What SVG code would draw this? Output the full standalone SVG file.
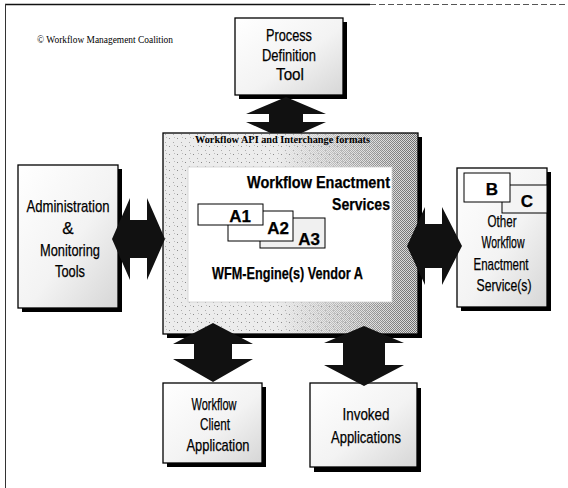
<svg xmlns="http://www.w3.org/2000/svg" width="568" height="488" viewBox="0 0 568 488">
<defs>
<style>
.box{stroke:#000;stroke-width:1.3}
.sh{fill:#000}
.plain{fill:url(#boxFill)}
.lbl{font-family:"Liberation Sans",Arial,sans-serif;font-size:17px;text-anchor:middle;fill:#000;stroke:#000;stroke-width:0.25}
.b{font-weight:bold}
.ser{font-family:"Liberation Serif","Times New Roman",serif;fill:#000}
.arrow{fill:#111}
</style>
<linearGradient id="boxFill" x1="0" y1="0" x2="1" y2="1">
<stop offset="0" stop-color="#ffffff"/>
<stop offset="0.55" stop-color="#f3f3f3"/>
<stop offset="1" stop-color="#d6d6d6"/>
</linearGradient>
<linearGradient id="maskGrad" gradientUnits="userSpaceOnUse" x1="163" y1="0" x2="418" y2="0">
<stop offset="0" stop-color="#000"/>
<stop offset="0.45" stop-color="#000"/>
<stop offset="0.8" stop-color="#999"/>
<stop offset="1" stop-color="#fff"/>
</linearGradient>
<mask id="darkMask"><rect x="163" y="133" width="255" height="201" fill="url(#maskGrad)"/></mask>
<pattern id="speck" width="8" height="8" patternUnits="userSpaceOnUse">
<rect width="8" height="8" fill="#ececec"/>
<rect x="1" y="2" width="1" height="1" fill="#8a8a8a"/>
<rect x="5" y="6" width="1" height="1" fill="#aaa"/>
<rect x="6" y="1" width="1" height="1" fill="#bbb"/>
</pattern>
<pattern id="checker" width="2" height="2" patternUnits="userSpaceOnUse">
<rect width="2" height="2" fill="#d8d8d8"/>
<rect width="1" height="1" fill="#6a6a6a"/>
<rect x="1" y="1" width="1" height="1" fill="#6a6a6a"/>
</pattern>
</defs>

<rect width="568" height="488" fill="#fff"/>
<!-- frame -->
<line x1="5" y1="4.5" x2="370" y2="4.5" stroke="#111" stroke-width="1.3"/>
<line x1="370" y1="4.5" x2="565" y2="4.5" stroke="#555" stroke-width="1" stroke-dasharray="6 3"/>
<line x1="5.5" y1="4" x2="5.5" y2="488" stroke="#333" stroke-width="1"/>

<text class="ser" x="37" y="43" font-size="9.5" textLength="136" lengthAdjust="spacingAndGlyphs">© Workflow Management Coalition</text>

<g id="process-definition-tool">
<rect class="sh" x="239" y="22" width="108" height="77"/>
<rect class="box plain" x="235" y="18" width="108" height="77"/>
<text class="lbl" x="289" y="41" textLength="46" lengthAdjust="spacingAndGlyphs">Process</text>
<text class="lbl" x="289" y="61" textLength="54" lengthAdjust="spacingAndGlyphs">Definition</text>
<text class="lbl" x="290" y="80" textLength="28" lengthAdjust="spacingAndGlyphs">Tool</text>
</g>

<g id="workflow-enactment-services">
<rect class="sh" x="167" y="137" width="255" height="201"/>
<rect x="163" y="133" width="255" height="201" fill="url(#speck)"/>
<rect x="163" y="133" width="255" height="201" fill="url(#checker)" mask="url(#darkMask)"/>
<rect x="163" y="133" width="255" height="201" fill="none" stroke="#000" stroke-width="1.3"/>
<text class="ser b" x="195" y="143" font-size="10" textLength="175" lengthAdjust="spacingAndGlyphs">Workflow API and Interchange formats</text>
<rect x="188" y="167" width="204" height="135" fill="#fff" stroke="#d0d0d0" stroke-width="0.8"/>
<text class="lbl b" x="390" y="188" font-size="17" style="text-anchor:end" textLength="143" lengthAdjust="spacingAndGlyphs">Workflow Enactment</text>
<text class="lbl b" x="390" y="210" font-size="17" style="text-anchor:end" textLength="58" lengthAdjust="spacingAndGlyphs">Services</text>
<g id="a3">
<rect x="260" y="218" width="65" height="30" fill="#f0f0f0" stroke="#000" stroke-width="1"/>
<text class="lbl b" x="309" y="245" font-size="15">A3</text>
</g>
<g id="a2">
<rect x="228" y="211" width="65" height="30" fill="#fff" stroke="#000" stroke-width="1"/>
<text class="lbl b" x="278" y="234" font-size="15">A2</text>
</g>
<g id="a1">
<rect x="198" y="204" width="65" height="21" fill="#fff" stroke="#000" stroke-width="1"/>
<text class="lbl b" x="240" y="222" font-size="15">A1</text>
</g>
<text class="lbl b" x="287.5" y="279" textLength="151" lengthAdjust="spacingAndGlyphs">WFM-Engine(s) Vendor A</text>
</g>

<g id="administration-monitoring-tools">
<rect class="sh" x="22" y="169" width="100" height="143"/>
<rect class="box plain" x="18" y="165" width="100" height="143"/>
<text class="lbl" x="68" y="212" textLength="83" lengthAdjust="spacingAndGlyphs">Administration</text>
<text class="lbl" x="68" y="234">&amp;</text>
<text class="lbl" x="70" y="256" textLength="60" lengthAdjust="spacingAndGlyphs">Monitoring</text>
<text class="lbl" x="70" y="277" textLength="30" lengthAdjust="spacingAndGlyphs">Tools</text>
</g>

<g id="other-workflow-enactment-services">
<rect class="sh" x="461" y="172" width="90" height="139"/>
<rect class="box plain" x="457" y="168" width="90" height="139"/>
<g id="c">
<rect x="502" y="185" width="45" height="28" fill="#f4f4f4" stroke="#000" stroke-width="1"/>
<text class="lbl b" x="527" y="207" font-size="14">C</text>
</g>
<g id="b">
<rect x="464" y="173" width="46" height="29" fill="#fff" stroke="#000" stroke-width="1"/>
<text class="lbl b" x="492" y="195" font-size="14">B</text>
</g>
<text class="lbl" x="502" y="227" textLength="29" lengthAdjust="spacingAndGlyphs">Other</text>
<text class="lbl" x="503" y="248" textLength="43" lengthAdjust="spacingAndGlyphs">Workflow</text>
<text class="lbl" x="501" y="270" textLength="55" lengthAdjust="spacingAndGlyphs">Enactment</text>
<text class="lbl" x="504" y="291" textLength="55" lengthAdjust="spacingAndGlyphs">Service(s)</text>
</g>

<g id="workflow-client-application">
<rect class="sh" x="167" y="387" width="99" height="80"/>
<rect class="box plain" x="163" y="383" width="99" height="80"/>
<text class="lbl" x="214" y="410" textLength="45" lengthAdjust="spacingAndGlyphs">Workflow</text>
<text class="lbl" x="215" y="430" textLength="30" lengthAdjust="spacingAndGlyphs">Client</text>
<text class="lbl" x="218" y="451" textLength="63" lengthAdjust="spacingAndGlyphs">Application</text>
</g>

<g id="invoked-applications">
<rect class="sh" x="314" y="388" width="107" height="84"/>
<rect class="box plain" x="310" y="383" width="107" height="84"/>
<text class="lbl" x="366" y="420" textLength="47" lengthAdjust="spacingAndGlyphs">Invoked</text>
<text class="lbl" x="366" y="443" textLength="70" lengthAdjust="spacingAndGlyphs">Applications</text>
</g>

<g id="connectors">
<polygon class="arrow" points="286,97 326,114 303,114 303,122 326,122 301.5,133 270.5,133 246,122 269,122 269,114 246,114"/>
<polygon class="arrow" points="112,239 130,198 130,220 147,220 147,198 165,239 147,280 147,258 130,258 130,280"/>
<polygon class="arrow" points="407,246 425,207 425,224 442,224 442,207 462,246 442,285 442,268 425,268 425,285"/>
<polygon class="arrow" points="213,323 253,344 232,344 232,359 253,359 213,382 173,359 194,359 194,344 173,344"/>
<polygon class="arrow" points="364,326 404,343 385,343 385,365 404,365 364,386 324,365 343,365 343,343 324,343"/>
</g>
</svg>
